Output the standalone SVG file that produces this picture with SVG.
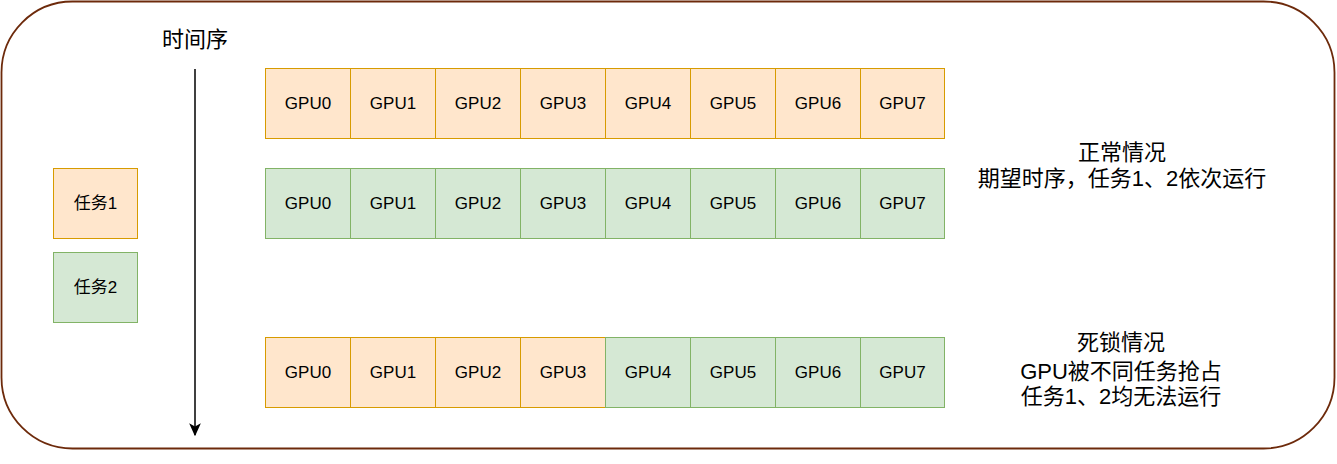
<svg xmlns="http://www.w3.org/2000/svg" width="1337" height="464" viewBox="0 0 1337 464">
<defs>
<style>
.o{fill:#ffe6cc;stroke:#d79b00;stroke-width:1}
.g{fill:#d5e8d4;stroke:#82b366;stroke-width:1}
.t{font-family:"Liberation Sans","Noto Sans CJK SC",sans-serif;font-size:17px;fill:#000;text-anchor:middle;dominant-baseline:central}
.l{font-family:"Liberation Sans","Noto Sans CJK SC",sans-serif;font-size:22px;fill:#000;text-anchor:middle}
</style>
<marker id="ah" viewBox="0 0 10 10" refX="9" refY="5" markerWidth="13" markerHeight="13" orient="auto" markerUnits="userSpaceOnUse">
<path d="M0,0.5 L10,5 L0,9.5 L2.5,5 Z" fill="#000"/>
</marker>
</defs>
<rect width="1337" height="464" fill="#fff"/>
<g id="frame"><rect x="1.5" y="1.5" width="1333" height="447" rx="71" ry="71" fill="none" stroke="#6d2a0b" stroke-width="1.8"/></g>
<g id="connectors"><line x1="195" y1="69" x2="195" y2="435" stroke="#000" stroke-width="1.5" marker-end="url(#ah)"/></g>
<g id="timelabel"><text class="l" x="195" y="47">时间序</text></g>
<g id="task1"><rect class="o" x="53.5" y="168.5" width="84" height="70"/><text class="t" x="95.5" y="203.5">任务1</text></g>
<g id="task2"><rect class="g" x="53.5" y="252.5" width="84" height="70"/><text class="t" x="95.5" y="287.5">任务2</text></g>
<g id="row1">
<rect class="o" x="265.5" y="68.5" width="85" height="70"/><text class="t" x="308" y="103.5">GPU0</text>
<rect class="o" x="350.5" y="68.5" width="85" height="70"/><text class="t" x="393" y="103.5">GPU1</text>
<rect class="o" x="435.5" y="68.5" width="85" height="70"/><text class="t" x="478" y="103.5">GPU2</text>
<rect class="o" x="520.5" y="68.5" width="85" height="70"/><text class="t" x="563" y="103.5">GPU3</text>
<rect class="o" x="605.5" y="68.5" width="85" height="70"/><text class="t" x="648" y="103.5">GPU4</text>
<rect class="o" x="690.5" y="68.5" width="85" height="70"/><text class="t" x="733" y="103.5">GPU5</text>
<rect class="o" x="775.5" y="68.5" width="85" height="70"/><text class="t" x="818" y="103.5">GPU6</text>
<rect class="o" x="860.5" y="68.5" width="84" height="70"/><text class="t" x="902.5" y="103.5">GPU7</text>
</g>
<g id="row2">
<rect class="g" x="265.5" y="168.5" width="85" height="70"/><text class="t" x="308" y="203.5">GPU0</text>
<rect class="g" x="350.5" y="168.5" width="85" height="70"/><text class="t" x="393" y="203.5">GPU1</text>
<rect class="g" x="435.5" y="168.5" width="85" height="70"/><text class="t" x="478" y="203.5">GPU2</text>
<rect class="g" x="520.5" y="168.5" width="85" height="70"/><text class="t" x="563" y="203.5">GPU3</text>
<rect class="g" x="605.5" y="168.5" width="85" height="70"/><text class="t" x="648" y="203.5">GPU4</text>
<rect class="g" x="690.5" y="168.5" width="85" height="70"/><text class="t" x="733" y="203.5">GPU5</text>
<rect class="g" x="775.5" y="168.5" width="85" height="70"/><text class="t" x="818" y="203.5">GPU6</text>
<rect class="g" x="860.5" y="168.5" width="84" height="70"/><text class="t" x="902.5" y="203.5">GPU7</text>
</g>
<g id="row3">
<rect class="o" x="265.5" y="337.5" width="85" height="70"/><text class="t" x="308" y="372.5">GPU0</text>
<rect class="o" x="350.5" y="337.5" width="85" height="70"/><text class="t" x="393" y="372.5">GPU1</text>
<rect class="o" x="435.5" y="337.5" width="85" height="70"/><text class="t" x="478" y="372.5">GPU2</text>
<rect class="o" x="520.5" y="337.5" width="85" height="70"/><text class="t" x="563" y="372.5">GPU3</text>
<rect class="g" x="605.5" y="337.5" width="85" height="70"/><text class="t" x="648" y="372.5">GPU4</text>
<rect class="g" x="690.5" y="337.5" width="85" height="70"/><text class="t" x="733" y="372.5">GPU5</text>
<rect class="g" x="775.5" y="337.5" width="85" height="70"/><text class="t" x="818" y="372.5">GPU6</text>
<rect class="g" x="860.5" y="337.5" width="84" height="70"/><text class="t" x="902.5" y="372.5">GPU7</text>
</g>
<g id="normal"><text class="l" x="1122" y="160">正常情况</text><text class="l" x="1122" y="186">期望时序，任务1、2依次运行</text></g>
<g id="deadlock"><text class="l" x="1121" y="350">死锁情况</text><text class="l" x="1121" y="379">GPU被不同任务抢占</text><text class="l" x="1121" y="404">任务1、2均无法运行</text></g>
</svg>
